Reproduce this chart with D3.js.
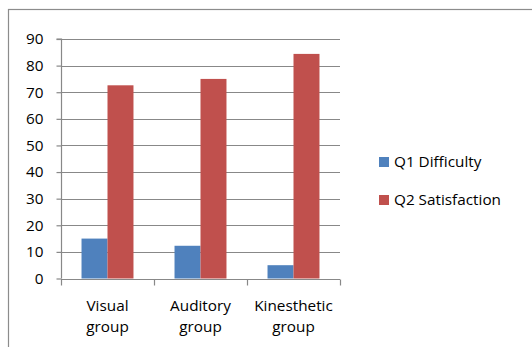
<!DOCTYPE html>
<html>
<head>
<meta charset="utf-8">
<script src="https://cdn.jsdelivr.net/npm/d3@7"></script>
<style>
  body { margin: 0; background: #fff; }
  svg { display: block; font-family: "Open Sans", "Noto Sans", sans-serif; }
</style>
</head>
<body>
<svg id="chart" width="532" height="347"></svg>
<script>
// values
const categories = ["Visual group", "Auditory group", "Kinesthetic group"];
const seriesNames = ["Q1 Difficulty", "Q2 Satisfaction"];
const q1Difficulty = [15, 12.3, 5];
const q2Satisfaction = [72.6, 75, 84.4];
const yTicks = [0, 10, 20, 30, 40, 50, 60, 70, 80, 90];
const colors = ["#4F81BD", "#C0504D"];

const rows = categories.map((c, i) => ({ cat: c, vals: [q1Difficulty[i], q2Satisfaction[i]] }));

const svg = d3.select("#chart");
const plot = { left: 61, right: 340, top: 39, bottom: 278.5 };
const fs = 15.3;

// outer frame
svg.append("rect")
  .attr("x", 8.5).attr("y", 9.5)
  .attr("width", 600).attr("height", 400)
  .attr("fill", "none").attr("stroke", "#8c8c8c").attr("stroke-width", 1.2);

const x = d3.scaleBand().domain(categories).range([plot.left, plot.right]);
const inner = d3.scaleBand().domain([0, 1]).range([0, x.bandwidth()]).paddingOuter(0.79).paddingInner(0);
const y = d3.scaleLinear().domain([0, 90]).range([plot.bottom, plot.top]);

// gridlines
svg.append("g").selectAll("line")
  .data(yTicks.filter(t => t > 0))
  .join("line")
  .attr("x1", plot.left).attr("x2", plot.right)
  .attr("y1", d => Math.round(y(d)) + 0.5).attr("y2", d => Math.round(y(d)) + 0.5)
  .attr("stroke", "#888").attr("stroke-width", 1.2);

// bars
const groups = svg.append("g").selectAll("g")
  .data(rows)
  .join("g")
  .attr("transform", d => `translate(${x(d.cat)},0)`);

groups.selectAll("rect")
  .data(d => d.vals.map((v, i) => ({ v, i })))
  .join("rect")
  .attr("x", d => inner(d.i))
  .attr("width", inner.bandwidth())
  .attr("y", d => y(d.v))
  .attr("height", d => y(0) - y(d.v))
  .attr("fill", d => colors[d.i]);

// y axis
const yAxis = svg.append("g")
  .attr("transform", `translate(${plot.left + 0.5},0)`)
  .call(d3.axisLeft(y).tickValues(yTicks).tickSize(5).tickPadding(13).tickFormat(d3.format("d")));
yAxis.select(".domain").attr("stroke", "#888").attr("stroke-width", 1.2).attr("d", `M-5,${y(90)}H0V${y(0)}`);
yAxis.selectAll(".tick line").attr("stroke", "#888").attr("stroke-width", 1.2);
yAxis.selectAll(".tick text").attr("font-size", fs).attr("fill", "#000")
  .attr("font-family", "'Open Sans', sans-serif");

// x axis
const xAxis = svg.append("g").attr("transform", `translate(0,${Math.round(y(0)) + 0.5})`);
xAxis.append("line")
  .attr("x1", plot.left).attr("x2", plot.right)
  .attr("stroke", "#888").attr("stroke-width", 1.2);
xAxis.selectAll(".xt")
  .data(categories.map(c => x(c)).concat([plot.right]))
  .join("line")
  .attr("class", "xt")
  .attr("x1", d => Math.round(d) + 0.5).attr("x2", d => Math.round(d) + 0.5)
  .attr("y1", 0).attr("y2", 6)
  .attr("stroke", "#888").attr("stroke-width", 1.2);

const labels = xAxis.selectAll(".xl")
  .data(categories)
  .join("text")
  .attr("class", "xl")
  .attr("text-anchor", "middle")
  .attr("font-size", fs)
  .attr("fill", "#000")
  .attr("transform", d => `translate(${x(d) + x.bandwidth() / 2},0)`);
labels.selectAll("tspan")
  .data(d => d.split(" "))
  .join("tspan")
  .attr("x", 0)
  .attr("y", (d, i) => 31 + i * 21.5)
  .text(d => d);

// legend
const legend = svg.append("g").attr("transform", "translate(379,157)");
const li = legend.selectAll("g")
  .data(seriesNames)
  .join("g")
  .attr("transform", (d, i) => `translate(0,${i * 38})`);
li.append("rect").attr("width", 10).attr("height", 10).attr("fill", (d, i) => colors[i]);
li.append("text").attr("x", 15).attr("y", 10).attr("font-size", fs).attr("fill", "#000").text(d => d);
</script>
</body>
</html>
